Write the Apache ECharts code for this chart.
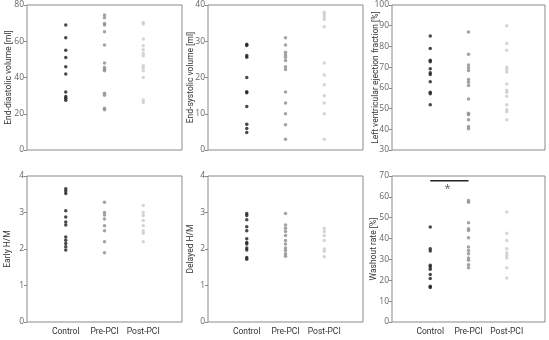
<!DOCTYPE html>
<html><head><meta charset="utf-8">
<script src="https://cdn.jsdelivr.net/npm/echarts@6/dist/echarts.min.js"></script>
<style>html,body{margin:0;padding:0;background:#fff}#c{width:549px;height:340px}</style>
</head><body><div id="c"></div>
<script>
const categories = ['Control', 'Pre-PCI', 'Post-PCI'];
const groupColors = ['#1c1c1c', '#8c8c8c', '#cbcbcb'];

const edvControl = [69, 62, 55, 51, 46, 42, 32, 29.5, 28.5, 27.5];
const edvPre = [74.5, 73, 69.8, 69, 65.3, 58, 48, 45.5, 44.6, 43.7, 31.3, 30.2, 23, 22.2];
const edvPost = [70.4, 69.5, 61.2, 57.5, 55.3, 53.3, 52, 46.5, 45.2, 43.7, 40, 27.6, 26.2];

const esvControl = [29.2, 28.8, 26.1, 25.6, 20, 16.1, 15.8, 12, 7.1, 5.9, 4.8];
const esvPre = [31, 29, 27, 26.3, 25.6, 24.7, 23, 22.2, 16, 13, 10, 7, 3];
const esvPost = [38, 37.4, 36.7, 36, 34, 24, 20.7, 18, 15, 13, 10, 3];

const lvefControl = [85, 79, 73.3, 72.6, 69.2, 67.3, 66.5, 62.9, 57.9, 57.2, 51.8];
const lvefPre = [87, 76.2, 71, 69.7, 68.4, 64, 62.7, 61.1, 54.6, 47.8, 47, 44.6, 41.3, 40.2];
const lvefPost = [90, 81.4, 78.1, 70, 68.9, 67.6, 61.9, 58.8, 57.9, 55.9, 51.9, 49.4, 48.5, 44.6];

const earlyControl = [3.65, 3.59, 3.52, 3.05, 2.88, 2.74, 2.66, 2.33, 2.24, 2.15, 2.06, 1.97];
const earlyPre = [3.28, 3.0, 2.93, 2.82, 2.64, 2.5, 2.2, 1.9];
const earlyPost = [3.19, 3.0, 2.92, 2.78, 2.64, 2.5, 2.43, 2.2];

const delayedControl = [2.97, 2.92, 2.8, 2.61, 2.5, 2.28, 2.18, 2.14, 2.03, 1.97, 1.77, 1.72];
const delayedPre = [2.97, 2.66, 2.57, 2.48, 2.37, 2.23, 2.14, 2.03, 1.96, 1.87, 1.8];
const delayedPost = [2.57, 2.48, 2.37, 2.23, 2.0, 1.94, 1.79];

const washControl = [45.5, 35.1, 34, 27.2, 26.4, 25.3, 22.8, 20.8, 17.1, 16.5];
const washPre = [58.2, 57.4, 47.6, 44.7, 43.9, 40.4, 35.9, 34.3, 32.7, 30.7, 29.6, 27.5, 26];
const washPost = [52.7, 42.6, 39.1, 35.1, 33.2, 31.9, 30.7, 26, 21.1];

const sigBarY = 67.7;
const sigStarY = 63.8;

const panels = [
  {name: 'End-diastolic volume [ml]', min: 0, max: 80, interval: 20, groups: [edvControl, edvPre, edvPost]},
  {name: 'End-systolic volume [ml]', min: 0, max: 40, interval: 10, groups: [esvControl, esvPre, esvPost]},
  {name: 'Left ventricular ejection fraction [%]', min: 30, max: 100, interval: 10, groups: [lvefControl, lvefPre, lvefPost]},
  {name: 'Early H/M', min: 0, max: 4, interval: 1, groups: [earlyControl, earlyPre, earlyPost]},
  {name: 'Delayed H/M', min: 0, max: 4, interval: 1, groups: [delayedControl, delayedPre, delayedPost]},
  {name: 'Washout rate [%]', min: 0, max: 70, interval: 10, groups: [washControl, washPre, washPost]}
];

const layout = [
  {left: 27, top: 5, width: 155, height: 145, nameGap: 13.5},
  {left: 208, top: 5, width: 155, height: 145, nameGap: 13},
  {left: 392, top: 5, width: 153, height: 145, nameGap: 11.5},
  {left: 27, top: 176, width: 155, height: 146, nameGap: 15},
  {left: 208, top: 176, width: 155, height: 146, nameGap: 13},
  {left: 392, top: 176, width: 153, height: 146, nameGap: 13.5}
];

const font = 'Roboto, "Open Sans", sans-serif';
const numFont = '"Open Sans", sans-serif';
const grid = [], xAxis = [], yAxis = [], series = [];
panels.forEach((p, i) => {
  const L = layout[i];
  grid.push({left: L.left, top: L.top, width: L.width, height: L.height, show: true,
    borderColor: '#8a8a8a', borderWidth: 1, backgroundColor: 'transparent'});
  const bottomRow = i >= 3;
  xAxis.push({type: 'value', gridIndex: i, min: 0, max: 4, interval: 1,
    axisLine: {show: false}, axisTick: {show: false}, splitLine: {show: false},
    axisLabel: {show: bottomRow, color: '#333', fontFamily: font, fontSize: 8.5, margin: 5,
      formatter: v => (v >= 1 && v <= 3) ? categories[v - 1] : ''}});
  yAxis.push({type: 'value', gridIndex: i, min: p.min, max: p.max, interval: p.interval,
    name: p.name, nameLocation: 'middle', nameGap: L.nameGap, nameMoveOverlap: false,
    nameTextStyle: {color: '#333', fontFamily: font, fontSize: 8.5},
    axisLine: {show: false}, splitLine: {show: false},
    axisTick: {show: true, inside: false, length: 3, lineStyle: {color: '#8a8a8a'}},
    axisLabel: {color: '#666', fontFamily: numFont, fontSize: 8.5, margin: 3}});
  p.groups.forEach((vals, g) => {
    series.push({type: 'scatter', xAxisIndex: i, yAxisIndex: i, symbol: 'circle', symbolSize: 3.5,
      itemStyle: {color: groupColors[g]}, silent: true,
      data: vals.map(v => [g + 1, v])});
  });
});

series.push({type: 'line', xAxisIndex: 5, yAxisIndex: 5, symbol: 'none', silent: true,
  lineStyle: {color: '#222', width: 1.5}, data: [[1, sigBarY], [2, sigBarY]]});
series.push({type: 'scatter', xAxisIndex: 5, yAxisIndex: 5, symbolSize: 0, silent: true,
  label: {show: true, position: 'inside', formatter: '*', color: '#333', fontSize: 11, fontFamily: numFont},
  data: [[1.45, sigStarY]]});

const chart = echarts.init(document.getElementById('c'), null, {renderer: 'canvas'});
chart.setOption({animation: false, backgroundColor: '#fff', grid, xAxis, yAxis, series});
</script></body></html>
